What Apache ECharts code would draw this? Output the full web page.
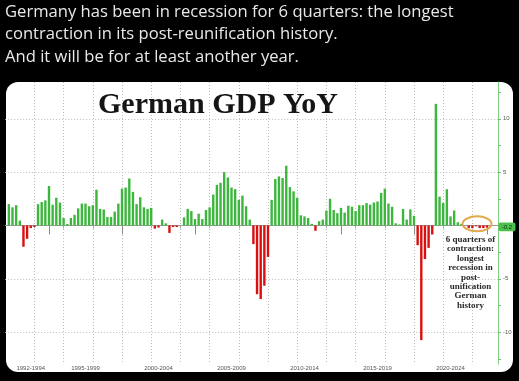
<!DOCTYPE html>
<html><head><meta charset="utf-8">
<script src="https://cdn.jsdelivr.net/npm/echarts@6/dist/echarts.min.js"></script>
<style>html,body{margin:0;padding:0;background:#000;}#c{width:519px;height:381px;}</style>
</head><body><div id="c"></div>
<script>
// ---- text ----
const headerLines = [
  'Germany has been in recession for 6 quarters: the longest',
  'contraction in its post-reunification history.',
  'And it will be for at least another year.'
];
const chartTitle = 'German GDP YoY';
const annotationLines = ['6 quarters of', 'contraction:', 'longest', 'recession in', 'post-', 'unification', 'German', 'history'];

// ---- data: German GDP YoY %, quarterly, Q1..Q4 per year ----
const gdp1990s = [
  2.0, 1.7, 1.9, 0.45,     // 1992
  -2.0, -1.25, -0.25, -0.15, // 1993
  2.0, 2.2, 2.35, 3.7,     // 1994
  1.95, 2.6, 2.15, 0.7,    // 1995
  0.15, 0.7, 1.0, 1.6,     // 1996
  2.05, 2.05, 1.8, 1.9,    // 1997
  3.35, 1.55, 1.5, 0.8,    // 1998
  0.8, 1.3, 2.05, 3.45     // 1999
];
const gdp2000s = [
  3.55, 4.4, 3.15, 2.0,    // 2000
  2.65, 1.7, 1.55, 1.65,   // 2001
  -0.3, -0.2, 0.55, 0.2,   // 2002
  -0.7, -0.15, -0.15, 0.0, // 2003
  0.75, 1.55, 1.35, 0.6,   // 2004
  1.1, 0.6, 1.45, 1.7,     // 2005
  2.9, 3.8, 4.0, 5.0,      // 2006
  4.5, 3.55, 3.4, 2.4,     // 2007
  2.8, 1.8, 0.55, -1.75,   // 2008
  -6.45, -6.9, -5.65, -2.95 // 2009
];
const gdp2010s = [
  2.4, 4.35, 4.6, 4.45,    // 2010
  5.6, 3.6, 3.2, 2.6,      // 2011
  0.95, 0.85, 0.7, 0.15,   // 2012
  -0.5, 0.4, 0.55, 1.4,    // 2013
  2.5, 1.45, 1.15, 1.65,   // 2014
  1.2, 1.85, 1.75, 1.35,   // 2015
  1.9, 1.9, 2.1, 1.95,     // 2016
  2.15, 2.25, 3.05, 3.45,  // 2017
  2.05, 1.75, 0.2, 0.1,    // 2018
  1.55, 0.55, 1.5, 0.9     // 2019
];
const gdp2020s = [
  -1.85, -10.75, -3.15, -2.1, // 2020
  -0.85, 11.4, 2.7, 2.1,     // 2021
  3.4, 0.85, 1.4, 0.3,       // 2022
  0.15, 0.0, -0.25, -0.25,   // 2023
  -0.08, -0.25, -0.25, -0.2  // 2024
];
const firstQuarter = '1992Q1';
const lastValueLabel = '-0.2';

// x axis period labels, the category each is centred on, and the quarter closing each period
const periodLabels = ['1992-1994', '1995-1999', '2000-2004', '2005-2009', '2010-2014', '2015-2019', '2020-2024'];
const periodLabelAt = ['1993Q3', '1997Q2', '2002Q2', '2007Q2', '2012Q2', '2017Q2', '2022Q2'];
const periodEnds = ['1994Q4', '1999Q4', '2004Q4', '2009Q4', '2014Q4', '2019Q4', '2024Q4'];
const yLabelValues = [-10, -5, 5, 10];
const yTickValues = [-12.5, -10, -7.5, -5, -2.5, 0, 2.5, 5, 7.5, 10, 12.5];

// ---- build ----
const categories = [];
for (let y = 1991; y <= 2025; y++) {
  for (let q = 1; q <= 4; q++) {
    if ((y === 1991 && q < 4) || (y === 2025 && q > 3)) continue;
    categories.push(y + 'Q' + q);
  }
}
const gdpAll = [].concat(gdp1990s, gdp2000s, gdp2010s, gdp2020s);
const start = categories.indexOf(firstQuarter);
const seriesData = categories.map((c, i) => {
  const k = i - start;
  return (k >= 0 && k < gdpAll.length) ? gdpAll[k] : null;
});

const GREEN = '#3db63d', RED = '#d81010';
const chart = echarts.init(document.getElementById('c'), null, {width: 519, height: 381});

const staticGraphics = [
  {type: 'rect', z: -100, shape: {x: 6, y: 82, width: 507, height: 290, r: 12}, style: {fill: '#ffffff'}},
  ...headerLines.map((t, i) => ({
    type: 'text', z: 10,
    style: {x: 5, y: 12.4 + i * 22.2, text: t, font: '16.6px "Open Sans"', fill: '#e7e9ea',
      textAlign: 'left', textVerticalAlign: 'middle', align: 'left', verticalAlign: 'middle'}
  })),
  {type: 'text', z: 10,
    style: {x: 98, y: 105, text: chartTitle, font: 'bold 30px "Liberation Serif"', fill: '#151515',
      textAlign: 'left', textVerticalAlign: 'middle', align: 'left', verticalAlign: 'middle',
      shadowColor: 'rgba(0,0,0,0.45)', shadowBlur: 3, shadowOffsetX: 2, shadowOffsetY: 2}},
  {type: 'text', z: 10,
    style: {x: 470.5, y: 272.5, text: annotationLines.join('\n'), font: 'bold 9px "Liberation Serif"',
      lineHeight: 9.45, fill: '#2a2a2a', textAlign: 'center', textVerticalAlign: 'middle',
      align: 'center', verticalAlign: 'middle'}}
];

const option = {
  backgroundColor: '#000000',
  animation: false,
  grid: {left: 5.2, top: 82, width: 492.75, height: 282.1, containLabel: false},
  xAxis: [
    {
      type: 'category', data: categories, boundaryGap: false,
      axisLine: {show: true, lineStyle: {color: '#9a9a9a', width: 1}},
      axisTick: {show: true, length: 3, interval: (i) => i % 8 === 0 && i > 0, lineStyle: {color: '#aaaaaa'}},
      axisLabel: {
        show: true, interval: (i, v) => periodLabelAt.indexOf(v) >= 0,
        formatter: (v) => { const k = periodLabelAt.indexOf(v); return k >= 0 ? periodLabels[k] : ''; },
        fontSize: 6, color: '#555555', margin: 1.5, fontFamily: '"Liberation Sans", Arial'
      },
      splitLine: {show: true, interval: (i) => i % 8 === 0 && i > 0, lineStyle: {color: '#bdbdbd', width: 1, type: [1, 2]}}
    },
    {
      type: 'category', data: categories, boundaryGap: false, position: 'bottom',
      axisLine: {show: false},
      axisTick: {show: true, length: 9, interval: (i, v) => periodEnds.indexOf(v) >= 0, lineStyle: {color: '#8a8a8a'}},
      axisLabel: {show: false}, splitLine: {show: false}
    }
  ],
  yAxis: [
    {
      type: 'value', position: 'right', min: -13, max: 13.45, splitNumber: 5,
      axisLine: {show: true, lineStyle: {color: '#82d082', width: 1}},
      axisTick: {show: false},
      axisLabel: {show: true, fontSize: 6, color: '#555555', margin: 5, fontFamily: '"Liberation Sans", Arial',
        showMinLabel: false, showMaxLabel: false,
        formatter: (v) => yLabelValues.indexOf(v) >= 0 ? String(v) : ''},
      splitLine: {show: true, showMinLine: false, showMaxLine: false,
        lineStyle: {color: '#bdbdbd', width: 1, type: [1, 2]}}
    },
    {
      type: 'value', position: 'right', min: -13, max: 13.45,
      axisLine: {show: false},
      axisTick: {show: true, length: 3, customValues: yTickValues, lineStyle: {color: '#6cc46c'}},
      axisLabel: {show: false}, splitLine: {show: false}
    }
  ],
  series: [{
    type: 'bar', xAxisIndex: 0, yAxisIndex: 0, data: seriesData, barWidth: 2.4,
    itemStyle: {color: (p) => (p.value < 0 ? RED : GREEN)}
  }],
  graphic: staticGraphics
};
chart.setOption(option);

// annotations anchored through the chart's own scales
const lastVal = gdpAll[gdpAll.length - 1];
const ell = chart.convertToPixel({xAxisIndex: 0, yAxisIndex: 0}, ['2024Q1', 0.15]);
const box = chart.convertToPixel({xAxisIndex: 0, yAxisIndex: 0}, [categories[categories.length - 1], lastVal]);
chart.setOption({graphic: staticGraphics.concat([
  {type: 'ellipse', z: 12, shape: {cx: ell[0] + 1, cy: ell[1], rx: 14.5, ry: 7.5},
    style: {fill: 'none', stroke: '#e2a94a', lineWidth: 2}},
  {type: 'rect', z: 12, shape: {x: box[0] + 0.5, y: box[1] - 5, width: 17, height: 8.6, r: 2},
    style: {fill: '#4cc04c'}},
  {type: 'text', z: 13, style: {x: box[0] + 9, y: box[1] - 0.7, text: lastValueLabel,
    font: '6px "Liberation Sans"', fill: '#103810', textAlign: 'center', textVerticalAlign: 'middle',
    align: 'center', verticalAlign: 'middle'}}
])});
</script>
</body></html>
